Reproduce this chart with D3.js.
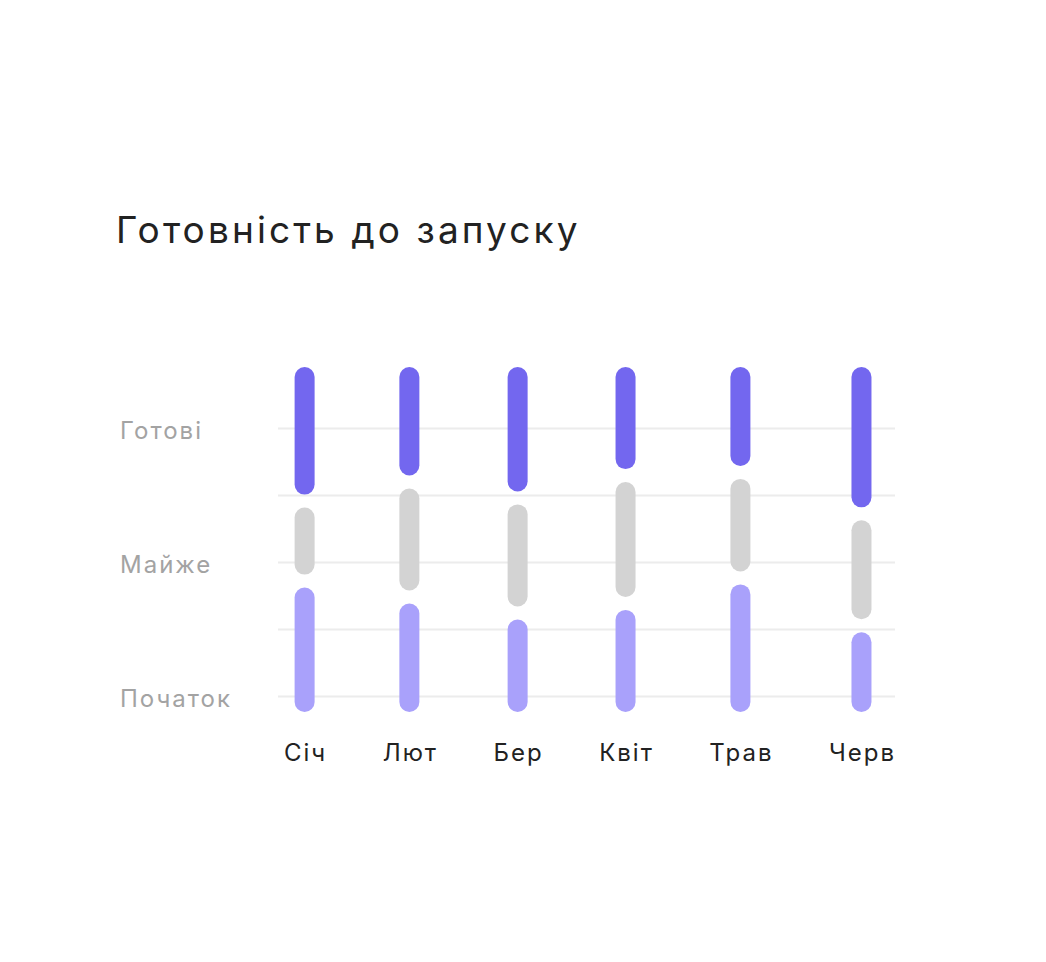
<!DOCTYPE html>
<html>
<head>
<meta charset="utf-8">
<script src="https://cdn.jsdelivr.net/npm/d3@7"></script>
<style>
  body { margin: 0; background: #fff; }
  svg { display: block; font-family: Inter, "Noto Sans", sans-serif; }
</style>
</head>
<body>
<svg id="chart"></svg>
<script>
// chart data
const title = "Готовність до запуску";
const months = ["Січ", "Лют", "Бер", "Квіт", "Трав", "Черв"];
const started = [39, 34, 29, 32, 40, 25];   // Початок (bottom)
const almost = [21, 32, 32, 36, 29, 31];    // Майже (middle)
const ready = [40, 34, 39, 32, 31, 44];     // Готові (top)
const levels = ["Початок", "Майже", "Готові"];

const width = 1046, height = 962;
const colors = { started: "#a9a1fb", almost: "#d3d3d3", ready: "#7367ef" };

const svg = d3.select("#chart")
    .attr("width", width)
    .attr("height", height);

svg.append("text")
    .attr("x", 116)
    .attr("y", 243)
    .attr("fill", "#222")
    .style("font-size", "37px")
    .style("letter-spacing", "3.1px")
    .text(title);

// level grid
const yLevel = d3.scaleLinear()
    .domain([0, levels.length - 1])
    .range([696, 428]);

const gridLeft = 278, gridRight = 895;

const yAxis = svg.append("g")
    .attr("transform", `translate(${gridLeft},0)`)
    .call(d3.axisLeft(yLevel)
        .tickValues(d3.range(0, levels.length - 0.5, 0.5))
        .tickSize(-(gridRight - gridLeft))
        .tickFormat(d => Number.isInteger(d) ? levels[d] : ""));

yAxis.select(".domain").remove();
yAxis.selectAll(".tick line")
    .attr("stroke", "#ececec")
    .attr("stroke-width", 2);
yAxis.selectAll(".tick text")
    .attr("x", 120 - gridLeft)
    .attr("dy", "0.45em")
    .attr("text-anchor", "start")
    .attr("fill", "#a3a3a3")
    .style("font-size", "24px")
    .style("letter-spacing", "2px")
    .style("font-family", "Inter, sans-serif");

// month labels laid out edge to edge, spread evenly
const labelLeft = 284, labelRight = 894;
const monthLabels = svg.append("g")
    .selectAll("text")
    .data(months)
    .join("text")
    .attr("y", 761)
    .attr("fill", "#222")
    .style("font-size", "24px")
    .style("letter-spacing", "2px")
    .text(d => d);

const widths = [];
monthLabels.each(function () { widths.push(this.getBBox().width - 2); });
const gap = (labelRight - labelLeft - d3.sum(widths)) / (months.length - 1);
let cursor = labelLeft;
const centers = widths.map(w => {
    const c = cursor + w / 2;
    cursor += w + gap;
    return c;
});
monthLabels.attr("x", (d, i) => centers[i] + 1).attr("text-anchor", "middle");

const x = d3.scaleOrdinal().domain(months).range(centers);

// stacked bars with gaps
const rows = months.map((m, i) => ({ month: m, started: started[i], almost: almost[i], ready: ready[i] }));
const keys = ["started", "almost", "ready"];
const series = d3.stack().keys(keys)(rows);

const segGap = 13;
const barW = 20;
const y = d3.scaleLinear().domain([0, 100]).range([712, 393]);

svg.append("g")
    .selectAll("g")
    .data(series)
    .join("g")
    .attr("fill", s => colors[s.key])
    .each(function (s, si) {
        d3.select(this).selectAll("rect")
            .data(s)
            .join("rect")
            .attr("x", d => x(d.data.month) - barW / 2)
            .attr("width", barW)
            .attr("y", d => y(d[1]) - si * segGap)
            .attr("height", d => y(d[0]) - y(d[1]))
            .attr("rx", barW / 2);
    });
</script>
</body>
</html>
